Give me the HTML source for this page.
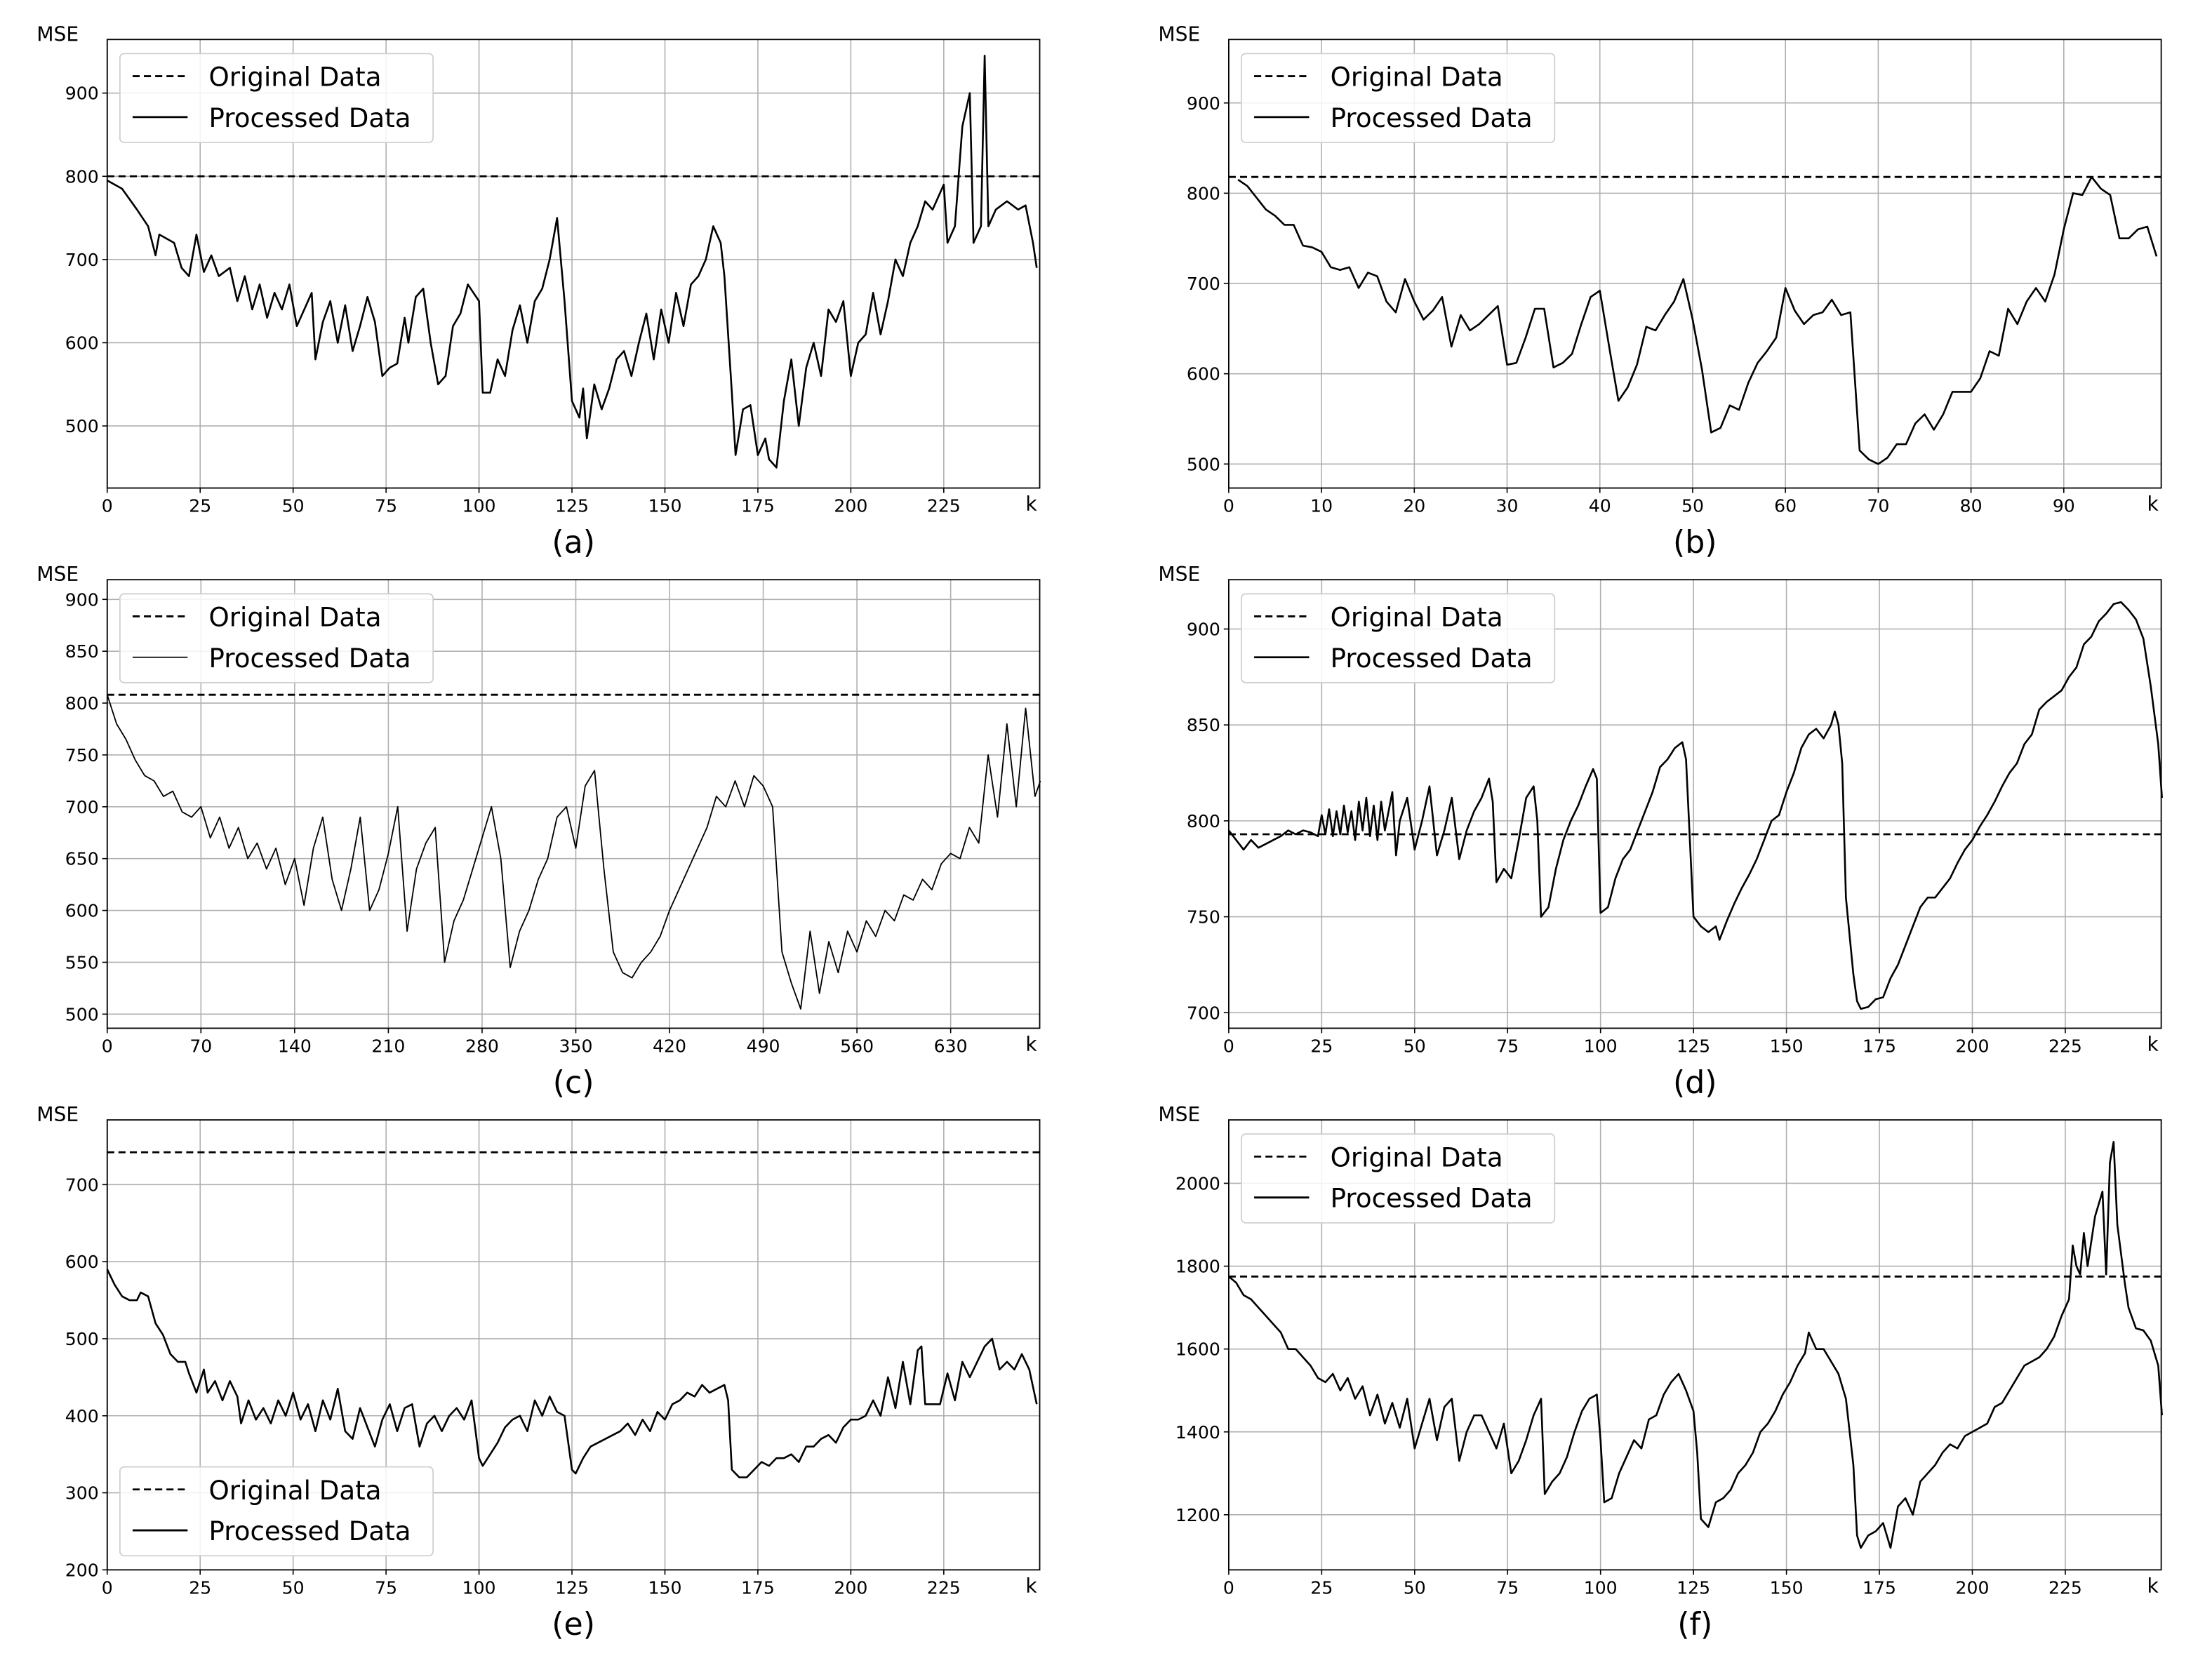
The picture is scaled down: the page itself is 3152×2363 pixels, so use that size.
<!DOCTYPE html>
<html><head><meta charset="utf-8"><style>
html,body{margin:0;padding:0;background:#fff}
svg{display:block}
text{font-family:"DejaVu Sans","Liberation Sans",sans-serif;fill:#000}
</style></head><body>
<svg id="fig" width="3152" height="2363" viewBox="0 0 1568 1175.5" preserveAspectRatio="none" xmlns="http://www.w3.org/2000/svg"></svg>
<script>
// ---- data ----
const aK=[0,4,8,11,13,14,18,20,22,24,26,28,30,33,35,37,39,41,43,45,47,49,51,53,55,56,58,60,62,64,66,68,70,72,74,76,78,80,81,83,85,87,89,91,93,95,97,100,101,103,105,107,109,111,113,115,117,119,121,123,125,127,128,129,131,133,135,137,139,141,143,145,147,149,151,153,155,157,159,161,163,165,166,168,169,171,173,175,177,178,180,182,184,186,188,190,192,194,196,198,200,202,204,206,208,210,212,214,216,218,220,222,225,226,228,230,232,233,235,236,237,239,242,245,247,249,250];
const aV=[795,785,760,740,705,730,720,690,680,730,685,705,680,690,650,680,640,670,630,660,640,670,620,640,660,580,625,650,600,645,590,620,655,625,560,570,575,630,600,655,665,600,550,560,620,635,670,650,540,540,580,560,615,645,600,650,665,700,750,650,530,510,545,485,550,520,545,580,590,560,600,635,580,640,600,660,620,670,680,700,740,720,680,540,465,520,525,465,485,460,450,530,580,500,570,600,560,640,625,650,560,600,610,660,610,650,700,680,720,740,770,760,790,720,740,860,900,720,740,945,740,760,770,760,765,720,690];
const aOrig=800;
const bK=[];for(let i=1;i<=100;i++)bK.push(i);
const bV=[815,808,795,782,775,765,765,742,740,735,718,715,718,695,712,708,680,668,705,680,660,670,685,630,665,648,655,665,675,610,612,640,672,672,607,612,622,655,685,692,630,570,585,610,652,648,665,680,705,660,605,535,540,565,560,590,612,625,640,695,670,655,665,668,682,665,668,515,505,500,507,522,522,545,555,538,555,580,580,580,595,625,620,672,655,680,695,680,710,760,800,798,818,805,798,750,750,760,763,730];
const bOrig=818;
const cK=[];for(let i=0;i<=693;i+=7)cK.push(i);cK.push(697);
const cV=[808,780,765,745,730,725,710,715,695,690,700,670,690,660,680,650,665,640,660,625,650,605,660,690,630,600,640,690,600,620,655,700,580,640,665,680,550,590,610,640,670,700,650,545,580,600,630,650,690,700,660,720,735,640,560,540,535,550,560,575,600,620,640,660,680,710,700,725,700,730,720,700,560,530,505,580,520,570,540,580,560,590,575,600,590,615,610,630,620,645,655,650,680,665,750,690,780,700,795,710,725];
const cOrig=808;
const dK=[0,2,4,6,8,10,12,14,16,18,20,22,24,25,26,27,28,29,30,31,32,33,34,35,36,37,38,39,40,41,42,44,45,46,48,50,52,54,56,58,60,62,64,66,68,70,71,72,74,76,78,80,82,83,84,86,88,90,92,94,96,98,99,100,102,104,106,108,110,112,114,116,118,120,122,123,125,127,129,131,132,134,136,138,140,142,144,146,148,150,152,154,156,158,160,162,163,164,165,166,168,169,170,172,174,176,178,180,182,184,186,188,190,192,194,196,198,200,202,204,206,208,210,212,214,216,218,220,222,224,226,228,230,232,234,236,238,240,242,244,246,248,250,251];
const dV=[795,790,785,790,786,788,790,792,795,793,795,794,792,803,793,806,792,805,793,808,794,805,790,810,795,812,792,808,790,810,795,815,782,800,812,785,800,818,782,795,812,780,795,805,812,822,810,768,775,770,790,812,818,800,750,755,775,790,800,808,818,827,822,752,755,770,780,785,795,805,815,828,832,838,841,832,750,745,742,745,738,748,757,765,772,780,790,800,803,815,825,838,845,848,843,850,857,850,830,760,720,706,702,703,707,708,718,725,735,745,755,760,760,765,770,778,785,790,797,803,810,818,825,830,840,845,858,862,865,868,875,880,892,896,904,908,913,914,910,905,895,870,840,812];
const dOrig=793;
const eK=[0,2,4,6,8,9,11,13,15,17,19,21,22,24,26,27,29,31,33,35,36,38,40,42,44,46,48,50,52,54,56,58,60,62,64,66,68,70,72,74,76,78,80,82,84,86,88,90,92,94,96,98,100,101,103,105,107,109,111,113,115,117,119,121,123,125,126,128,130,132,134,136,138,140,142,144,146,148,150,152,154,156,158,160,162,164,166,167,168,170,172,174,176,178,180,182,184,186,188,190,192,194,196,198,200,202,204,206,208,210,212,214,216,218,219,220,222,224,226,228,230,232,234,236,238,240,242,244,246,248,250];
const eV=[590,570,555,550,550,560,555,520,505,480,470,470,455,430,460,430,445,420,445,425,390,420,395,410,390,420,400,430,395,415,380,420,395,435,380,370,410,385,360,395,415,380,410,415,360,390,400,380,400,410,395,420,345,335,350,365,385,395,400,380,420,400,425,405,400,330,325,345,360,365,370,375,380,390,375,395,380,405,395,415,420,430,425,440,430,435,440,420,330,320,320,330,340,335,345,345,350,340,360,360,370,375,365,385,395,395,400,420,400,450,410,470,415,485,490,415,415,415,455,420,470,450,470,490,500,460,470,460,480,460,415];
const eOrig=742;
const fK=[0,2,4,6,8,10,12,14,16,18,20,22,24,26,28,30,32,34,36,38,40,42,44,46,48,50,52,54,56,58,60,62,64,66,68,70,72,74,76,78,80,82,84,85,87,89,91,93,95,97,99,100,101,103,105,107,109,111,113,115,117,119,121,123,125,126,127,129,131,133,135,137,139,141,143,145,147,149,151,153,155,156,158,160,162,164,166,168,169,170,172,174,176,178,180,182,184,186,188,190,192,194,196,198,200,202,204,206,208,210,212,214,216,218,220,222,224,226,227,228,229,230,231,233,235,236,237,238,239,241,242,244,246,248,250,251];
const fV=[1775,1760,1730,1720,1700,1680,1660,1640,1600,1600,1580,1560,1530,1520,1540,1500,1530,1480,1510,1440,1490,1420,1470,1410,1480,1360,1420,1480,1380,1460,1480,1330,1400,1440,1440,1400,1360,1420,1300,1330,1380,1440,1480,1250,1280,1300,1340,1400,1450,1480,1490,1380,1230,1240,1300,1340,1380,1360,1430,1440,1490,1520,1540,1500,1450,1350,1190,1170,1230,1240,1260,1300,1320,1350,1400,1420,1450,1490,1520,1560,1590,1640,1600,1600,1570,1540,1480,1320,1150,1120,1150,1160,1180,1120,1220,1240,1200,1280,1300,1320,1350,1370,1360,1390,1400,1410,1420,1460,1470,1500,1530,1560,1570,1580,1600,1630,1680,1720,1850,1800,1780,1880,1800,1920,1980,1780,2050,2100,1900,1760,1700,1650,1645,1620,1560,1440];
const fOrig=1775;
const xTicks250=[0,25,50,75,100,125,150,175,200,225];
const xTicksB=[0,10,20,30,40,50,60,70,80,90];
const xTicksC=[0,70,140,210,280,350,420,490,560,630];
const yTicksA=[500,600,700,800,900];
const yTicksC=[500,550,600,650,700,750,800,850,900];
const yTicksD=[700,750,800,850,900];
const yTicksE=[200,300,400,500,600,700];
const yTicksF=[1200,1400,1600,1800,2000];

const NS='http://www.w3.org/2000/svg';
const svg=document.getElementById('fig');
function mk(tag,attrs,parent){const e=document.createElementNS(NS,tag);for(const k in attrs)e.setAttribute(k,attrs[k]);(parent||svg).appendChild(e);return e;}

const panels=[
 {id:'a',box:[76,28,737,346],xd:[0,250.8],yd:[425.4,964.4],xt:xTicks250,yt:yTicksA,k:aK,v:aV,o:aOrig,leg:[85,38]},
 {id:'b',box:[871,28,1532,346],xd:[0,100.5],yd:[473.4,970.3],xt:xTicksB,yt:yTicksA,k:bK,v:bV,o:bOrig,leg:[880,38]},
 {id:'c',box:[76,411,737,729],xd:[0,696.5],yd:[486.4,919],xt:xTicksC,yt:yTicksC,k:cK,v:cV,o:cOrig,leg:[85,421],thin:true},
 {id:'d',box:[871,411,1532,729],xd:[0,250.8],yd:[691.9,925.7],xt:xTicks250,yt:yTicksD,k:dK,v:dV,o:dOrig,leg:[880,421]},
 {id:'e',box:[76,794,737,1113],xd:[0,250.8],yd:[200,784],xt:xTicks250,yt:yTicksE,k:eK,v:eV,o:eOrig,leg:[85,1040]},
 {id:'f',box:[871,794,1532,1113],xd:[0,250.8],yd:[1067,2153],xt:xTicks250,yt:yTicksF,k:fK,v:fV,o:fOrig,leg:[880,804]}
];

panels.forEach(p=>{
 const [x0,y0,x1,y1]=p.box;
 const sx=k=>x0+(k-p.xd[0])/(p.xd[1]-p.xd[0])*(x1-x0);
 const sy=v=>y1-(v-p.yd[0])/(p.yd[1]-p.yd[0])*(y1-y0);
 const g=mk('g',{});
 
 
 p.xt.forEach(t=>{
  const x=sx(t);
  const gl=mk('line',{x1:x,x2:x,y1:y0,y2:y1,stroke:'#b0b0b0','stroke-width':0.8},g);
  
  
  mk('line',{x1:x,x2:x,y1:y1,y2:y1+3.5,stroke:'#000','stroke-width':0.8},g);
  const tl=mk('text',{x:x,y:y1+17,'font-size':12.5,'text-anchor':'middle'},g);
  tl.textContent=t;
  
  
 });
 p.yt.forEach(t=>{
  const y=sy(t);
  const gl=mk('line',{x1:x0,x2:x1,y1:y,y2:y,stroke:'#b0b0b0','stroke-width':0.8},g);
  
  
  mk('line',{x1:x0-3.5,x2:x0,y1:y,y2:y,stroke:'#000','stroke-width':0.8},g);
  const tl=mk('text',{x:x0-6,y:y+4.5,'font-size':12.5,'text-anchor':'end'},g);
  tl.textContent=t;
  
  
 });
 const ol=mk('line',{x1:x0,x2:x1,y1:sy(p.o),y2:sy(p.o),stroke:'#000','stroke-width':1.4,'stroke-dasharray':'5,3'},g);
 
 
 let d='';
 p.k.forEach((k,i)=>{d+=(i?'L':'M')+sx(k).toFixed(2)+','+sy(p.v[i]).toFixed(2);});
 const pl=mk('path',{d:d,fill:'none',stroke:'#000','stroke-width':p.thin?0.9:1.3,'stroke-linejoin':'round'},g);
 
 
 const fr=mk('rect',{x:x0,y:y0,width:x1-x0,height:y1-y0,fill:'none',stroke:'#000','stroke-width':0.9},g);
 
 
 const ms=mk('text',{x:x0-50,y:y0+1,'font-size':14},g);
 ms.textContent='MSE';
 
 
 const kl=mk('text',{x:x1-10,y:y1+16,'font-size':14},g);
 kl.textContent='k';
 
 
 const sl=mk('text',{x:(x0+x1)/2,y:y1+46,'font-size':22,'text-anchor':'middle'},g);
 sl.textContent='('+p.id+')';
 
 
 const [lx,ly]=p.leg;
 const lg=mk('g',{},g);
 
 
 mk('rect',{x:lx,y:ly,width:222,height:63,rx:3,fill:'#fff','fill-opacity':0.85,stroke:'#d0d0d0','stroke-width':0.9},lg);
 mk('line',{x1:lx+9,x2:lx+48,y1:ly+16,y2:ly+16,stroke:'#000','stroke-width':1.4,'stroke-dasharray':'5,3'},lg);
 mk('line',{x1:lx+9,x2:lx+48,y1:ly+45,y2:ly+45,stroke:'#000','stroke-width':p.thin?0.9:1.4},lg);
 const t1=mk('text',{x:lx+63,y:ly+23,'font-size':18.5},lg);
 t1.textContent='Original Data';
 
 
 const t2=mk('text',{x:lx+63,y:ly+52,'font-size':18.5},lg);
 t2.textContent='Processed Data';
 
 
});
</script>
</body></html>
